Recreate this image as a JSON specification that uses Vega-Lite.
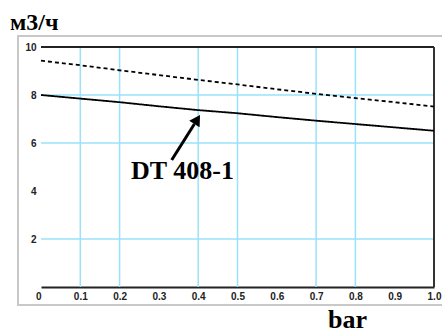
{
  "$schema": "https://vega.github.io/schema/vega-lite/v6.json",
  "width": 393,
  "height": 240,
  "autosize": {"type": "none"},
  "padding": {"left": 41, "top": 47, "right": 8, "bottom": 45},
  "background": "white",
  "config": {
    "view": {"stroke": null},
    "font": "Liberation Sans",
    "axisX": {
      "labelExpr": "datum.value === 0 ? '0' : format(datum.value, '.1f')",
      "grid": false,
      "ticks": false,
      "tickCount": 10,
      "domainColor": "#222222",
      "domainWidth": 2,
      "labelFont": "Liberation Sans",
      "labelFontSize": 10,
      "labelFontWeight": "bold",
      "labelColor": "#222222",
      "labelPadding": 4,
      "labelOverlap": false,
      "labelFlush": false,
      "labelAlign": {"condition": {"test": "datum.value === 0", "value": "right"}, "value": "center"},
      "titleFont": "Liberation Serif",
      "titleFontSize": 26,
      "titleFontWeight": "bold",
      "titleColor": "black",
      "titleX": 306,
      "titleY": 40,
      "titleAlign": "center",
      "titleBaseline": "alphabetic"
    },
    "axisY": {
      "grid": false,
      "ticks": false,
      "domain": false,
      "labelFont": "Liberation Sans",
      "labelFontSize": 10,
      "labelFontWeight": "bold",
      "labelColor": "#222222",
      "labelPadding": 5,
      "labelOverlap": false
    }
  },
  "title": {
    "text": "м3/ч",
    "anchor": "start",
    "frame": "group",
    "orient": "top",
    "font": "Liberation Serif",
    "fontSize": 24,
    "fontWeight": "bold",
    "color": "black",
    "dx": -31,
    "dy": 19,
    "offset": 0,
    "baseline": "alphabetic"
  },
  "datasets": {
    "curves": [
      {"p": 0.0, "q": 9.43, "series": "dashed"},
      {"p": 0.1, "q": 9.24, "series": "dashed"},
      {"p": 0.2, "q": 9.03, "series": "dashed"},
      {"p": 0.3, "q": 8.83, "series": "dashed"},
      {"p": 0.4, "q": 8.63, "series": "dashed"},
      {"p": 0.5, "q": 8.44, "series": "dashed"},
      {"p": 0.6, "q": 8.24, "series": "dashed"},
      {"p": 0.7, "q": 8.05, "series": "dashed"},
      {"p": 0.8, "q": 7.87, "series": "dashed"},
      {"p": 0.9, "q": 7.7, "series": "dashed"},
      {"p": 1.0, "q": 7.52, "series": "dashed"},
      {"p": 0.0, "q": 8.0, "series": "solid"},
      {"p": 0.1, "q": 7.85, "series": "solid"},
      {"p": 0.2, "q": 7.7, "series": "solid"},
      {"p": 0.3, "q": 7.53, "series": "solid"},
      {"p": 0.4, "q": 7.37, "series": "solid"},
      {"p": 0.5, "q": 7.24, "series": "solid"},
      {"p": 0.6, "q": 7.08, "series": "solid"},
      {"p": 0.7, "q": 6.93, "series": "solid"},
      {"p": 0.8, "q": 6.79, "series": "solid"},
      {"p": 0.9, "q": 6.65, "series": "solid"},
      {"p": 1.0, "q": 6.51, "series": "solid"}
    ],
    "vgrid": [{"g": 0.1}, {"g": 0.2}, {"g": 0.4}, {"g": 0.5}, {"g": 0.7}, {"g": 0.8}],
    "hgrid": [{"g": 2}, {"g": 6}, {"g": 8}],
    "arrow": [{"p": 0.3326, "q": 5.29}, {"p": 0.3903, "q": 6.79}],
    "head": [{"p": 0.3975, "q": 6.98}],
    "label": [{"p": 0.36, "q": 4.52, "text": "DT 408-1"}]
  },
  "layer": [
    {
      "data": {"values": [{}]},
      "mark": {"type": "rect", "fill": null, "stroke": "#c8c8c8", "strokeWidth": 2},
      "encoding": {
        "x": {
          "datum": -0.0585,
          "type": "quantitative",
          "scale": {"domain": [0, 1], "nice": false, "zero": false},
          "axis": {"title": "bar"}
        },
        "x2": {"datum": 1.04},
        "y": {
          "datum": -0.75,
          "type": "quantitative",
          "scale": {"domain": [0, 10], "nice": false},
          "axis": {"title": null, "values": [2, 4, 6, 8, 10]}
        },
        "y2": {"datum": 10.46}
      }
    },
    {
      "data": {"name": "vgrid"},
      "mark": {"type": "rule", "color": "#99e2fa", "strokeWidth": 1.5},
      "encoding": {"x": {"field": "g", "type": "quantitative"}}
    },
    {
      "data": {"name": "hgrid"},
      "mark": {"type": "rule", "color": "#99e2fa", "strokeWidth": 1.5},
      "encoding": {"y": {"field": "g", "type": "quantitative"}}
    },
    {
      "data": {"values": [{}]},
      "mark": {"type": "rule", "color": "#222222", "strokeWidth": 2},
      "encoding": {"y": {"datum": 10, "type": "quantitative"}}
    },
    {
      "data": {"values": [{}]},
      "mark": {"type": "rule", "color": "#333333", "strokeWidth": 2},
      "encoding": {"x": {"datum": 1, "type": "quantitative"}}
    },
    {
      "data": {"name": "curves"},
      "mark": {"type": "line", "color": "black", "strokeWidth": 1.8},
      "encoding": {
        "x": {"field": "p", "type": "quantitative"},
        "y": {"field": "q", "type": "quantitative"},
        "detail": {"field": "series"},
        "strokeDash": {
          "field": "series",
          "type": "nominal",
          "scale": {"domain": ["dashed", "solid"], "range": [[4, 3], [1, 0]]},
          "legend": null
        }
      }
    },
    {
      "data": {"name": "arrow"},
      "mark": {"type": "line", "color": "black", "strokeWidth": 3},
      "encoding": {
        "x": {"field": "p", "type": "quantitative"},
        "y": {"field": "q", "type": "quantitative"}
      }
    },
    {
      "data": {"name": "head"},
      "mark": {"type": "point", "shape": "triangle-up", "filled": true, "color": "black", "opacity": 1, "size": 150, "angle": 32},
      "encoding": {
        "x": {"field": "p", "type": "quantitative"},
        "y": {"field": "q", "type": "quantitative"}
      }
    },
    {
      "data": {"name": "label"},
      "mark": {"type": "text", "font": "Liberation Serif", "fontSize": 26, "fontWeight": "bold", "color": "black", "align": "center", "baseline": "alphabetic"},
      "encoding": {
        "x": {"field": "p", "type": "quantitative"},
        "y": {"field": "q", "type": "quantitative"},
        "text": {"field": "text"}
      }
    }
  ]
}
